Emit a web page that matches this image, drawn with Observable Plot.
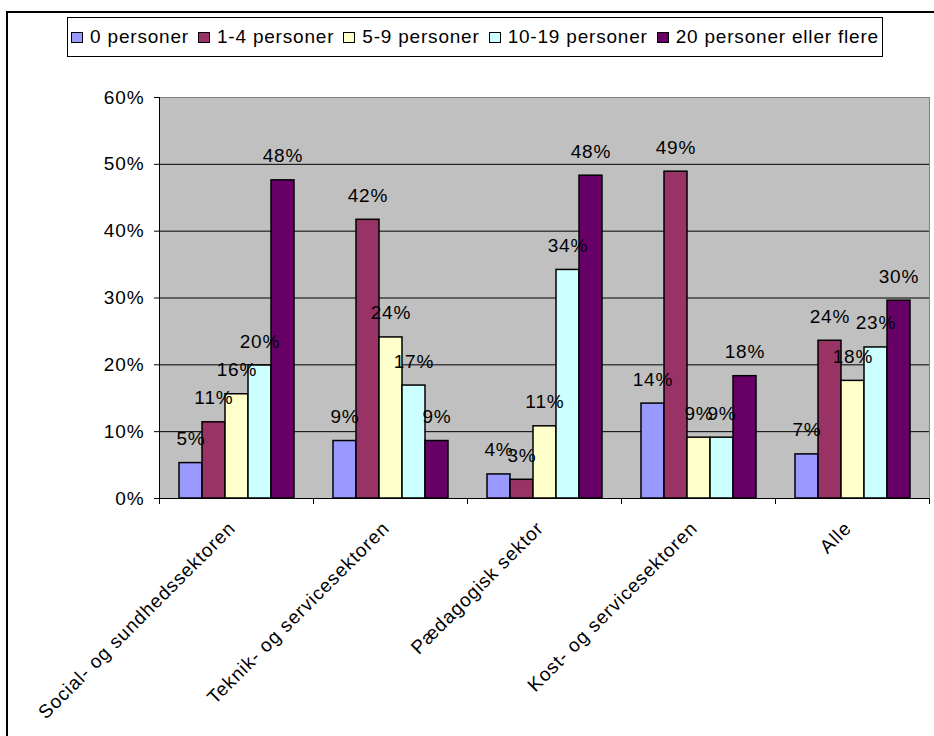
<!DOCTYPE html>
<html><head><meta charset="utf-8">
<script src="https://cdn.jsdelivr.net/npm/d3@7"></script>
<script src="https://cdn.jsdelivr.net/npm/@observablehq/plot@0.6"></script>
<style>
html,body{margin:0;padding:0;background:#fff;overflow:hidden;width:934px;height:736px;}
body{position:relative;font-family:"Liberation Sans",Arial,sans-serif;color:#000;}
#border{position:absolute;left:6px;top:11px;width:1000px;height:1000px;border:2px solid #000;box-sizing:border-box;}
#legend{position:absolute;left:67px;top:17px;width:816px;height:40px;border:1px solid #000;box-sizing:border-box;background:#fff;display:flex;align-items:center;justify-content:center;font-size:19px;letter-spacing:0.8px;z-index:2;}
.item{display:flex;align-items:center;margin:0 4.5px;white-space:nowrap;}
.sw{width:12px;height:11px;border:1px solid #000;box-sizing:border-box;margin-right:7px;}
#chart{position:absolute;left:0;top:60px;}
#chart svg text{letter-spacing:0.9px;}
</style></head><body>
<div id="border"></div>
<div id="legend"></div>
<div id="chart"></div>
<script>
const categories = ["Social- og sundhedssektoren", "Teknik- og servicesektoren", "Pædagogisk sektor", "Kost- og servicesektoren", "Alle"];
const groups = ["0 personer", "1-4 personer", "5-9 personer", "10-19 personer", "20 personer eller flere"];
const colors = ["#9999ff", "#993366", "#ffffcc", "#ccffff", "#660066"];
const values0 = [5.3, 8.6, 3.6, 14.2, 6.6];
const values1to4 = [11.4, 41.7, 2.8, 48.9, 23.6];
const values5to9 = [15.6, 24.1, 10.8, 9.1, 17.6];
const values10to19 = [19.9, 16.9, 34.2, 9.1, 22.6];
const values20plus = [47.6, 8.6, 48.3, 18.3, 29.6];
const yTicks = [0, 10, 20, 30, 40, 50, 60];

const series = [values0, values1to4, values5to9, values10to19, values20plus];
const rows = categories.flatMap((c, i) => groups.map((g, j) => ({category: c, group: g, value: series[j][i]})));

// legend
const legend = document.getElementById("legend");
groups.forEach((g, j) => {
  const item = document.createElement("div");
  item.className = "item";
  const sw = document.createElement("div");
  sw.className = "sw";
  sw.style.background = colors[j];
  const t = document.createElement("span");
  t.textContent = g;
  item.appendChild(sw);
  item.appendChild(t);
  legend.appendChild(item);
});

const W = 934, H = 676, mT = 37, mB = 238, mL = 159, mR = 5;
const plotH = H - mT - mB;

const chart = Plot.plot({
  width: W, height: H,
  marginTop: mT, marginBottom: mB, marginLeft: mL, marginRight: mR,
  style: {fontFamily: '"Liberation Sans", Arial, sans-serif', fontSize: "19px", color: "#000", background: "transparent", overflow: "visible"},
  fx: {domain: categories, padding: 0, axis: null},
  x: {domain: groups, paddingInner: 0, paddingOuter: 0.72, axis: null},
  y: {domain: [0, 60], axis: null},
  color: {domain: groups, range: colors},
  marks: [
    Plot.frame({facet: "super", fill: "#c0c0c0", stroke: "#808080"}),
    Plot.gridY(yTicks.slice(1, -1), {stroke: "#000", strokeOpacity: 1}),
    Plot.frame({facet: "super", anchor: "left", stroke: "#000"}),
    Plot.ruleY([0], {stroke: "#000"}),
    Plot.frame({anchor: "left", stroke: "#000", insetTop: plotH, insetBottom: -5}),
    Plot.frame({anchor: "right", stroke: "#000", insetTop: plotH, insetBottom: -5}),
    Plot.barY(rows, {fx: "category", x: "group", y: "value", fill: "group", stroke: "#000", strokeWidth: 1.5}),
    Plot.text(rows, {fx: "category", x: "group", y: "value", text: d => Math.round(d.value) + "%", lineAnchor: "bottom", dy: -18, fill: "#000"}),
    Plot.axisY({ticks: yTicks, tickSize: 5, tickPadding: 10, tickFormat: d => d + "%", label: null, fill: "#000", stroke: "#000"}),
    Plot.text(categories, {fx: d => d, text: d => d, frameAnchor: "bottom", rotate: -45, textAnchor: "end", lineAnchor: "bottom", dy: 31, fill: "#000"})
  ]
});
document.getElementById("chart").appendChild(chart);
</script>
</body></html>
